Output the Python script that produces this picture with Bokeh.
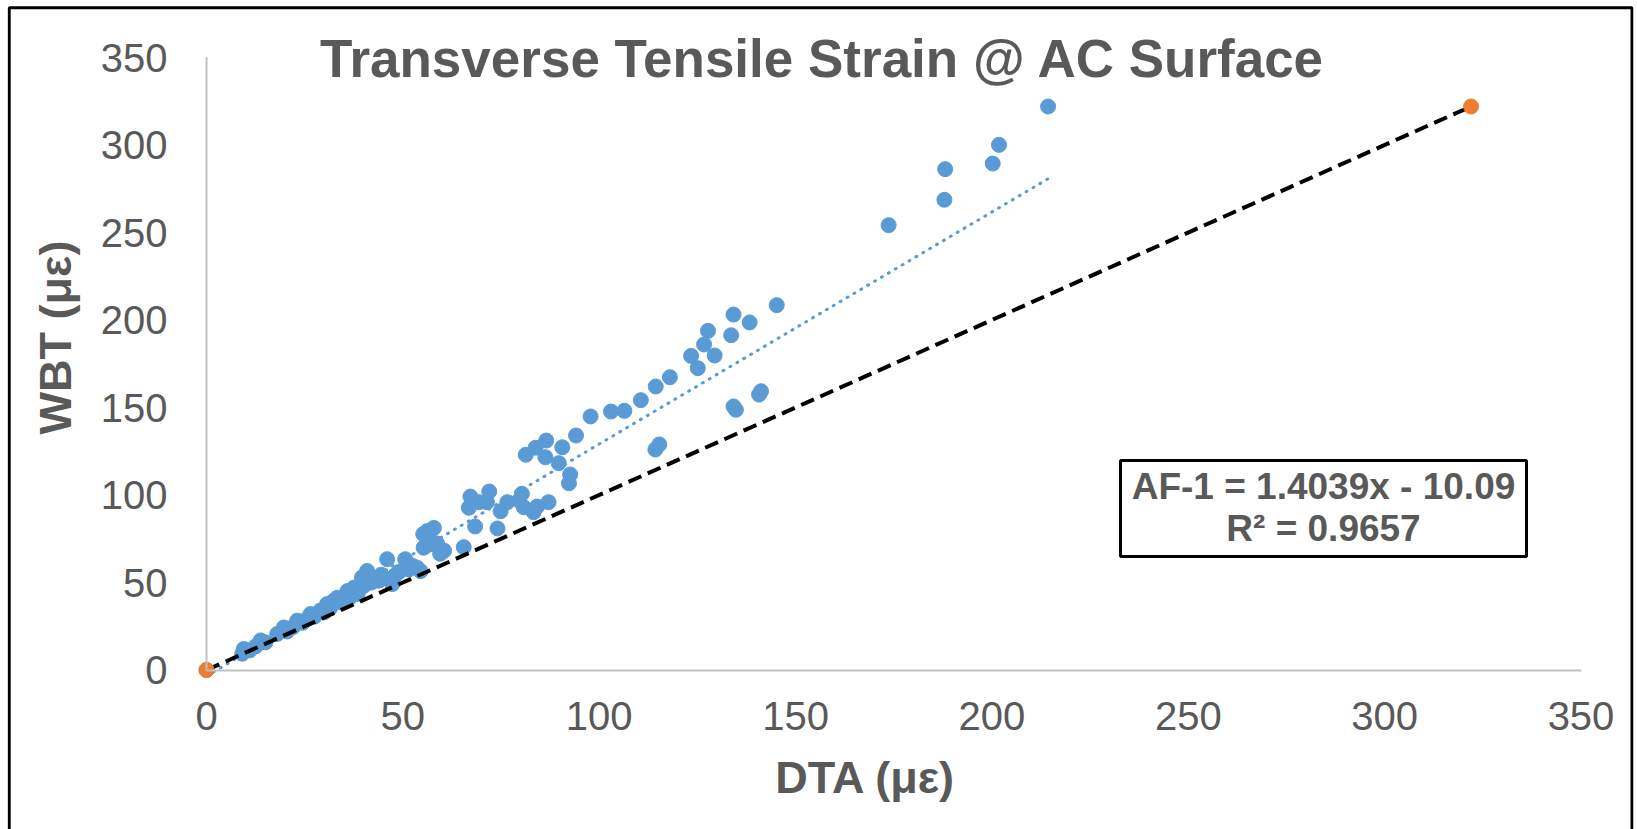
import math
from bokeh.plotting import figure
from bokeh.models import Range1d, FixedTicker, Label, BoxAnnotation, LinearAxis
from bokeh.embed import file_html
from bokeh.resources import INLINE

# ---------------- data ----------------
dta = [0.0,
       9.1, 9.5, 11.0, 12.5, 13.8, 15.0, 18.0, 19.7, 20.5, 22.0, 23.1, 24.5, 25.5, 26.5,
       27.5, 29.0, 30.0, 30.7, 31.5, 32.4, 33.3, 34.5, 35.9, 36.5, 37.6, 38.5, 39.6, 40.0,
       40.9, 42.0, 43.9, 44.5, 46.0, 45.5, 47.3, 48.0, 49.0, 50.6, 51.5, 52.5, 53.6, 54.5,
       55.3, 55.2, 56.2, 56.5, 57.9, 56.8, 58.7, 59.5, 60.5,
       65.5, 66.8, 67.2, 68.4, 69.4, 71.4, 72.0, 74.1, 74.9, 76.6, 79.6, 80.3, 80.8, 81.3,
       83.3, 83.8, 84.2, 86.3, 86.5, 87.1, 89.7, 90.6, 92.3, 92.6, 94.1, 97.8, 103.0, 106.4,
       110.6, 114.3, 115.3, 114.4, 118.0, 123.4, 125.1, 126.7, 127.7, 129.4, 133.6, 134.2,
       134.2, 134.8, 138.3, 140.7, 141.2, 145.2,
       173.7, 187.9, 188.1, 200.2, 201.8, 214.3]
wbt = [0.0,
       9.3, 12.0, 11.2, 13.5, 16.9, 15.8, 20.6, 24.3, 22.0, 24.5, 28.2, 27.0, 29.0, 32.0,
       30.5, 34.0, 33.0, 37.7, 35.5, 39.6, 41.3, 38.5, 45.1, 41.5, 47.1, 43.5, 52.9, 48.0,
       56.6, 50.0, 51.0, 54.5, 63.3, 52.5, 49.1, 54.0, 56.0, 63.3, 57.5, 59.5, 58.5, 56.5,
       69.9, 77.7, 79.4, 76.5, 81.2, 71.7, 72.3, 66.4, 68.2,
       70.2, 92.7, 99.1, 82.0, 95.9, 95.9, 102.0, 80.9, 90.7, 95.9, 96.9, 100.7, 93.0, 123.0,
       90.2, 127.0, 93.4, 121.6, 131.1, 95.9, 118.2, 127.3, 106.7, 111.7, 134.0, 144.9, 147.7, 148.1,
       154.2, 126.0, 128.9, 162.0, 167.3, 179.5, 172.5, 186.0, 193.8, 179.7, 191.3, 203.1,
       150.6, 148.7, 198.6, 157.4, 159.3, 208.5,
       254.2, 268.7, 286.2, 289.4, 300.1, 322.0]

# 1:1 reference series (orange markers joined by dashed line)
ref_x = [0, 322]
ref_y = [0, 322]

# dotted linear trendline as drawn in the chart (slope, intercept)
trend_slope = 1.326
trend_intercept = -3.46

x_ticks = [0, 50, 100, 150, 200, 250, 300, 350]
y_ticks = [0, 50, 100, 150, 200, 250, 300, 350]

title_text = "Transverse Tensile Strain @ AC Surface"
x_title = "DTA (\u03bc\u03b5)"
y_title = "WBT (\u03bc\u03b5)"
eq_line1 = "AF-1 = 1.4039x - 10.09"
eq_line2 = "R\u00b2 = 0.9657"

# ---------------- layout / styling ----------------
BLUE = "#5B9BD5"
ORANGE = "#ED7D31"
TXT = "#595959"
AX = "#BFBFBF"
FONT = "Liberation Sans"
W, H = 1637, 829

# frame covers the whole chart-area border
FL, FR, FT, FB = 7, 1633, 5, 829
# pixel anchors of the axes
X0_PX, X350_PX = 206.0, 1580.5
Y0_PX, Y350_PX = 669.5, 57.0
kx = (X350_PX - X0_PX) / 350.0
ky = (Y0_PX - Y350_PX) / 350.0
x_range = Range1d(-(X0_PX - FL) / kx, 350 + (FR - X350_PX) / kx)
y_range = Range1d(-(FB - Y0_PX) / ky, 350 + (Y350_PX - FT) / ky)

p = figure(width=W, height=H, output_backend="svg", toolbar_location=None,
           x_range=x_range, y_range=y_range,
           x_axis_type=None, y_axis_type=None,
           min_border_left=FL, min_border_right=W - FR,
           min_border_top=FT, min_border_bottom=H - FB)
p.background_fill_color = "white"
p.border_fill_color = "white"
p.outline_line_color = None

xax = LinearAxis(fixed_location=0, bounds=(x_ticks[0], x_ticks[-1]),
                 ticker=FixedTicker(ticks=x_ticks))
yax = LinearAxis(fixed_location=0, bounds=(y_ticks[0], y_ticks[-1]),
                 ticker=FixedTicker(ticks=y_ticks))
for ax in (xax, yax):
    ax.axis_line_color = AX
    ax.axis_line_width = 2
    ax.major_tick_line_color = None
    ax.minor_tick_line_color = None
    ax.major_tick_out = 0
    ax.major_tick_in = 0
    ax.major_label_text_font = FONT
    ax.major_label_text_font_size = "40px"
    ax.major_label_text_color = TXT
xax.major_label_standoff = 32
yax.major_label_standoff = 39
p.add_layout(xax, "below")
p.add_layout(yax, "left")

# data
p.scatter(dta, wbt, size=15, fill_color=BLUE, line_color=BLUE, line_width=1)

# dotted trendline over the data range
tx = [min(dta), max(dta)]
ty = [trend_slope * v + trend_intercept for v in tx]
p.line(tx, ty, line_color=BLUE, line_width=3, line_dash="1 7", line_cap="round")

# 1:1 line
p.line(ref_x, ref_y, line_color="black", line_width=4, line_dash="14 7")
p.scatter(ref_x, ref_y, size=15, fill_color=ORANGE, line_color=ORANGE)


def sx(px):
    return px - FL


def sy(py):
    return FB - py


BASE = 0.375  # baseline compensation (fraction of font size)

# outer chart border
p.add_layout(BoxAnnotation(left=sx(8.7), right=sx(1631.5), top=sy(7.3), bottom=sy(900),
                           left_units="screen", right_units="screen",
                           top_units="screen", bottom_units="screen",
                           fill_alpha=0, line_color="black", line_alpha=1, line_width=3))

# title
p.add_layout(Label(x=sx(822), y=sy(78) + BASE * 53, x_units="screen", y_units="screen",
                   text=title_text, text_font=FONT, text_font_size="53px",
                   text_font_style="bold", text_color=TXT,
                   text_align="center", text_baseline="alphabetic"))

# axis titles
p.add_layout(Label(x=sx(865), y=sy(794) + BASE * 45, x_units="screen", y_units="screen",
                   text=x_title, text_font=FONT, text_font_size="45px",
                   text_font_style="bold", text_color=TXT,
                   text_align="center", text_baseline="alphabetic"))
p.add_layout(Label(x=sx(72 - BASE * 45), y=sy(337), x_units="screen", y_units="screen",
                   text=y_title, text_font=FONT, text_font_size="45px",
                   text_font_style="bold", text_color=TXT, angle=math.pi / 2,
                   text_align="center", text_baseline="alphabetic"))

# equation box
p.add_layout(BoxAnnotation(left=sx(1120), right=sx(1526), top=sy(460), bottom=sy(556),
                           left_units="screen", right_units="screen",
                           top_units="screen", bottom_units="screen",
                           fill_color="white", fill_alpha=1,
                           line_color="black", line_alpha=1, line_width=3))
for txt, base in ((eq_line1, 500), (eq_line2, 541.7)):
    p.add_layout(Label(x=sx(1323), y=sy(base) + BASE * 37, x_units="screen", y_units="screen",
                       text=txt, text_font=FONT, text_font_size="37px",
                       text_font_style="bold", text_color=TXT,
                       text_align="center", text_baseline="alphabetic"))

open("out.html", "w").write(file_html(p, INLINE))
